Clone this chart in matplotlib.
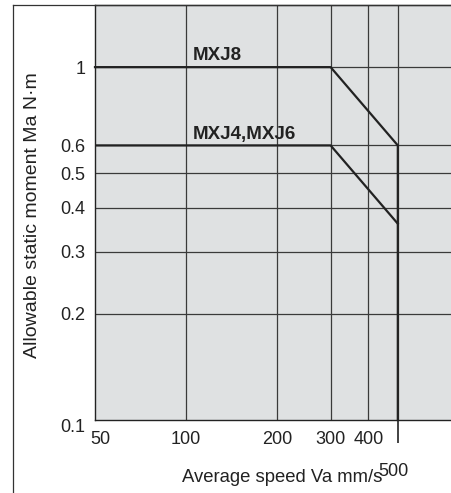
import matplotlib.pyplot as plt
from matplotlib.lines import Line2D
from matplotlib.ticker import FixedLocator, FixedFormatter, NullFormatter
from matplotlib.transforms import ScaledTranslation

plt.rcParams['font.family'] = ['Liberation Sans', 'DejaVu Sans']

# data
mxj8_speed = [50, 300, 500, 500]
mxj8_moment = [1.0, 1.0, 0.6, 0.1]
mxj46_speed = [50, 300, 500]
mxj46_moment = [0.6, 0.6, 0.36]

x_ticks = [50, 100, 200, 300, 400]
x_labels = ['50', '100', '200', '300', '400']
y_ticks = [0.1, 0.2, 0.3, 0.4, 0.5, 0.6, 1]
y_labels = ['0.1', '0.2', '0.3', '0.4', '0.5', '0.6', '1']

fig = plt.figure(figsize=(4.52, 4.93), dpi=100)
ax = fig.add_axes([95 / 452, 73 / 493, 357 / 452, 415 / 493])
ax.set_facecolor('#dfe1e2')
ax.set_xscale('log')
ax.set_yscale('log')
ax.set_xlim(50, 755)
ax.set_ylim(0.1, 1.5)

ax.xaxis.set_major_locator(FixedLocator(x_ticks))
ax.xaxis.set_major_formatter(FixedFormatter(x_labels))
ax.xaxis.set_minor_locator(FixedLocator([500]))
ax.xaxis.set_minor_formatter(FixedFormatter(['500']))
ax.yaxis.set_major_locator(FixedLocator(y_ticks))
ax.yaxis.set_major_formatter(FixedFormatter(y_labels))
ax.yaxis.set_minor_formatter(NullFormatter())
ax.yaxis.set_minor_locator(FixedLocator([]))

ax.tick_params(axis='both', which='major', length=0, labelsize=13, colors='#222')
ax.tick_params(axis='x', which='major', pad=8)
ax.tick_params(axis='y', which='major', pad=7)
ax.tick_params(axis='x', which='minor', length=16.5, width=1.2, color='#222',
               pad=14.5, labelsize=13, labelcolor='#222')

# nudge a few labels like the original
fig.canvas.draw()
ax.get_yticklabels()[0].set_transform(
    ax.get_yticklabels()[0].get_transform() + ScaledTranslation(0, -5 / 100, fig.dpi_scale_trans))
ax.get_xticklabels()[0].set_transform(
    ax.get_xticklabels()[0].get_transform() + ScaledTranslation(5 / 100, 0, fig.dpi_scale_trans))
ax.xaxis.get_minor_ticks()[0].label1.set_transform(
    ax.xaxis.get_minor_ticks()[0].label1.get_transform() + ScaledTranslation(-4 / 100, 0, fig.dpi_scale_trans))

for v in x_ticks[1:] + [500]:
    ax.axvline(v, color='#3a3a3a', lw=0.9, zorder=1)
for v in y_ticks[1:]:
    ax.axhline(v, color='#3a3a3a', lw=0.9, zorder=1)

ax.plot(mxj8_speed, mxj8_moment, color='#222', lw=1.6, zorder=3, clip_on=False)
ax.plot(mxj46_speed, mxj46_moment, color='#222', lw=1.6, zorder=3)

ax.text(105, 1.045, 'MXJ8', fontsize=13.5, fontweight='bold', color='#222')
ax.text(105, 0.624, 'MXJ4,MXJ6', fontsize=13.5, fontweight='bold', color='#222')

ax.spines['right'].set_visible(False)
for side in ['left', 'bottom', 'top']:
    ax.spines[side].set_color('#222')
    ax.spines[side].set_linewidth(1.0)

fig.text(282 / 452, 1 - 477 / 493, 'Average speed Va mm/s', fontsize=13.3,
         ha='center', va='center', color='#222')
fig.text(33 / 452, 1 - 215 / 493, 'Allowable static moment Ma N·m', fontsize=14,
         ha='center', va='center', rotation=90, color='#222')

# outer frame
fig.add_artist(Line2D([13 / 452, 13 / 452], [0, 1 - 5 / 493], color='#333', lw=0.9))
fig.add_artist(Line2D([13 / 452, 1], [1 - 5 / 493, 1 - 5 / 493], color='#333', lw=0.9))

fig.savefig('out.png', dpi=100)
